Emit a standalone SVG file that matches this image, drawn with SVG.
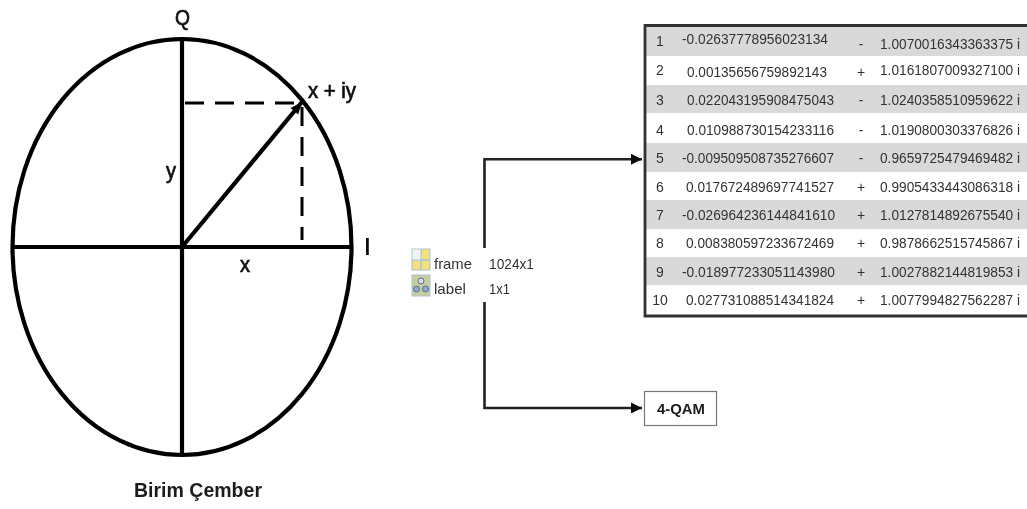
<svg xmlns="http://www.w3.org/2000/svg" width="1027" height="509" viewBox="0 0 1027 509">
<style>
text{font-family:"Liberation Sans",Arial,sans-serif;fill:#1c1c1c}
.big{font-size:22px;fill:#111;stroke:#111;stroke-width:.7}
.t{font-size:14px;fill:#333}
.s{font-size:15px;fill:#333}
.thick{fill:none;stroke:#000;stroke-width:4.200}
.dash{fill:none;stroke:#000;stroke-width:3;stroke-dasharray:19 11}
.conn{fill:none;stroke:#222;stroke-width:2.600}
.band{fill:#d9d9d9}
.soft{filter:url(#soft)}
</style>
<defs>
<filter id="soft" x="-2%" y="-2%" width="104%" height="104%"><feGaussianBlur stdDeviation="0.45"/></filter>
<marker id="a" markerUnits="userSpaceOnUse" markerWidth="13" markerHeight="13" refX="12" refY="6.500" orient="auto"><path d="M1 1L12 6.500L1 12Z" fill="#111"/></marker>
<marker id="b" markerUnits="userSpaceOnUse" markerWidth="16" markerHeight="16" refX="13" refY="8" orient="auto"><path d="M1 3L13 8L1 13Z" fill="#000"/></marker>
</defs>
<rect width="1027" height="509" fill="#fff"/>
<g id="unit-circle" class="soft">
<ellipse class="thick" cx="182" cy="247" rx="169.500" ry="208"/>
<path class="thick" d="M182 39V455M12 247H352"/>
<path class="thick" d="M182 247L302 102" marker-end="url(#b)"/>
<path class="dash" d="M185 103H300M302 107V240"/>
<text class="big" x="175" y="25" textLength="15" lengthAdjust="spacingAndGlyphs">Q</text>
<text class="big" x="308" y="98" textLength="48" lengthAdjust="spacingAndGlyphs">x + iy</text>
<text class="big" x="166" y="178" textLength="10" lengthAdjust="spacingAndGlyphs">y</text>
<rect x="366" y="238" width="2.800" height="17" fill="#111"/>
<text class="big" x="240" y="272" textLength="10" lengthAdjust="spacingAndGlyphs">x</text>
<text x="134" y="497" font-size="19.500" font-weight="700" textLength="128" lengthAdjust="spacingAndGlyphs">Birim Çember</text>
</g>
<g id="workspace" class="soft">
<rect x="412" y="249" width="18" height="21" fill="#f3e27c" stroke="#a9bfd6"/>
<path d="M421 249V270M412 260H430" stroke="#a9bfd6" stroke-width="1.500"/>
<path d="M412.500 249.500h8v10h-8z" fill="#eef3fa"/>
<rect x="412" y="275" width="18" height="21" fill="#c6cf9c" stroke="#a9bfd6"/>
<circle cx="421" cy="281" r="3" fill="#d5dce8" stroke="#566f9a"/>
<circle cx="416.500" cy="289" r="3" fill="#8fa8cc" stroke="#566f9a"/>
<circle cx="425.500" cy="289" r="3" fill="#8fa8cc" stroke="#566f9a"/>
<text class="s" x="434" y="269" textLength="38" lengthAdjust="spacingAndGlyphs">frame</text>
<text class="s" x="434" y="294" textLength="32" lengthAdjust="spacingAndGlyphs">label</text>
<text class="s" x="489" y="269" textLength="45" lengthAdjust="spacingAndGlyphs">1024x1</text>
<text class="s" x="489" y="294" textLength="21" lengthAdjust="spacingAndGlyphs">1x1</text>
</g>
<g id="connectors" class="soft">
<path class="conn" d="M484.500 248V159.300H642" marker-end="url(#a)"/>
<path class="conn" d="M484.500 302V408H642" marker-end="url(#a)"/>
</g>
<g id="table" class="soft">
<rect class="band" x="645" y="27" width="382" height="29"/>
<rect class="band" x="645" y="85" width="382" height="28"/>
<rect class="band" x="645" y="143" width="382" height="29"/>
<rect class="band" x="645" y="200" width="382" height="29"/>
<rect class="band" x="645" y="257" width="382" height="28"/>
<path d="M645 25.500H1027M645 24V316H1027" fill="none" stroke="#333" stroke-width="2.800"/>
<g class="rows">
<text class="t" x="660" y="46" text-anchor="middle">1</text><text class="t" x="682" y="44" textLength="146" lengthAdjust="spacingAndGlyphs">-0.02637778956023134</text><text class="t" x="861" y="49" text-anchor="middle">-</text><text class="t" x="880" y="49" textLength="140" lengthAdjust="spacingAndGlyphs">1.0070016343363375 i</text>
<text class="t" x="660" y="75" text-anchor="middle">2</text><text class="t" x="687" y="77" textLength="140" lengthAdjust="spacingAndGlyphs">0.00135656759892143</text><text class="t" x="861" y="77" text-anchor="middle">+</text><text class="t" x="880" y="75" textLength="140" lengthAdjust="spacingAndGlyphs">1.0161807009327100 i</text>
<text class="t" x="660" y="105" text-anchor="middle">3</text><text class="t" x="687" y="105" textLength="147" lengthAdjust="spacingAndGlyphs">0.022043195908475043</text><text class="t" x="861" y="105" text-anchor="middle">-</text><text class="t" x="880" y="105" textLength="140" lengthAdjust="spacingAndGlyphs">1.0240358510959622 i</text>
<text class="t" x="660" y="135" text-anchor="middle">4</text><text class="t" x="687" y="135" textLength="147" lengthAdjust="spacingAndGlyphs">0.010988730154233116</text><text class="t" x="861" y="135" text-anchor="middle">-</text><text class="t" x="880" y="135" textLength="140" lengthAdjust="spacingAndGlyphs">1.0190800303376826 i</text>
<text class="t" x="660" y="163" text-anchor="middle">5</text><text class="t" x="682" y="163" textLength="152" lengthAdjust="spacingAndGlyphs">-0.009509508735276607</text><text class="t" x="861" y="163" text-anchor="middle">-</text><text class="t" x="880" y="163" textLength="140" lengthAdjust="spacingAndGlyphs">0.9659725479469482 i</text>
<text class="t" x="660" y="192" text-anchor="middle">6</text><text class="t" x="686" y="192" textLength="148" lengthAdjust="spacingAndGlyphs">0.017672489697741527</text><text class="t" x="861" y="192" text-anchor="middle">+</text><text class="t" x="880" y="192" textLength="140" lengthAdjust="spacingAndGlyphs">0.9905433443086318 i</text>
<text class="t" x="660" y="220" text-anchor="middle">7</text><text class="t" x="682" y="220" textLength="153" lengthAdjust="spacingAndGlyphs">-0.026964236144841610</text><text class="t" x="861" y="220" text-anchor="middle">+</text><text class="t" x="880" y="220" textLength="140" lengthAdjust="spacingAndGlyphs">1.0127814892675540 i</text>
<text class="t" x="660" y="248" text-anchor="middle">8</text><text class="t" x="686" y="248" textLength="148" lengthAdjust="spacingAndGlyphs">0.008380597233672469</text><text class="t" x="861" y="248" text-anchor="middle">+</text><text class="t" x="880" y="248" textLength="140" lengthAdjust="spacingAndGlyphs">0.9878662515745867 i</text>
<text class="t" x="660" y="277" text-anchor="middle">9</text><text class="t" x="682" y="277" textLength="153" lengthAdjust="spacingAndGlyphs">-0.018977233051143980</text><text class="t" x="861" y="277" text-anchor="middle">+</text><text class="t" x="880" y="277" textLength="140" lengthAdjust="spacingAndGlyphs">1.0027882144819853 i</text>
<text class="t" x="660" y="305" text-anchor="middle">10</text><text class="t" x="686" y="305" textLength="148" lengthAdjust="spacingAndGlyphs">0.027731088514341824</text><text class="t" x="861" y="305" text-anchor="middle">+</text><text class="t" x="880" y="305" textLength="140" lengthAdjust="spacingAndGlyphs">1.0077994827562287 i</text>
</g>
</g>
<g id="qam" class="soft">
<rect x="644.500" y="391.500" width="72" height="34" fill="#fff" stroke="#777" stroke-width="1.200"/>
<text x="657" y="414" font-size="15" font-weight="700" textLength="48" lengthAdjust="spacingAndGlyphs">4-QAM</text>
</g>
</svg>
